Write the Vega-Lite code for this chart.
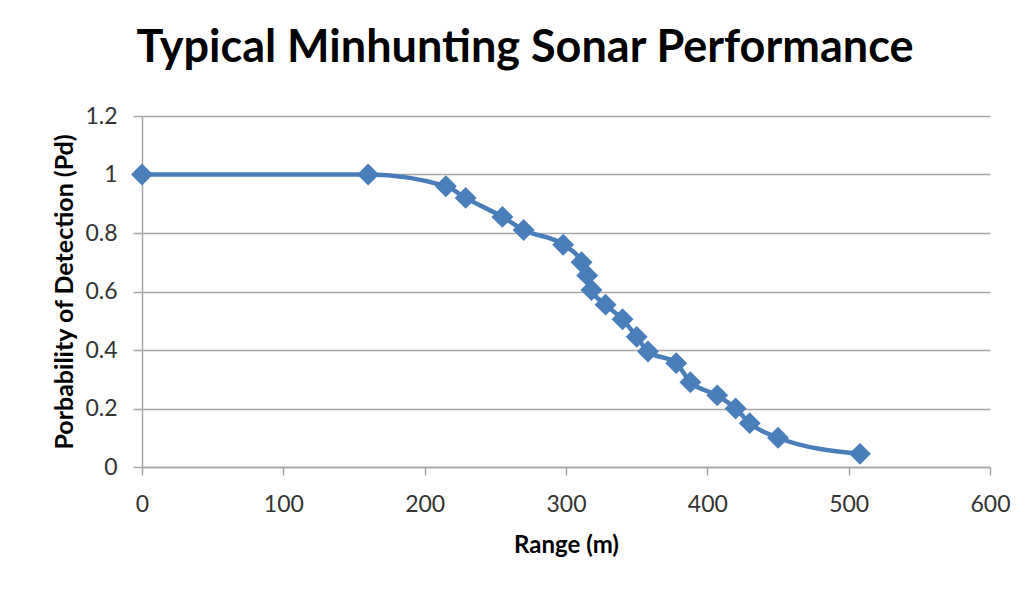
{
  "$schema": "https://vega.github.io/schema/vega-lite/v6.json",
  "width": 848,
  "height": 351,
  "autosize": {"type": "none"},
  "padding": {"left": 142, "top": 116, "right": 41, "bottom": 123},
  "background": "white",
  "title": {
    "text": "Typical Minhunting Sonar Performance",
    "font": "Lato",
    "fontWeight": "bold",
    "fontSize": 45,
    "color": "#000000",
    "anchor": "middle",
    "dx": -41,
    "dy": 48,
    "baseline": "alphabetic",
    "offset": 46
  },
  "data": {
    "values": [
      {"range": 0, "pd": 1.0},
      {"range": 160, "pd": 1.0},
      {"range": 215, "pd": 0.96},
      {"range": 229, "pd": 0.92},
      {"range": 255, "pd": 0.855},
      {"range": 270, "pd": 0.81},
      {"range": 298, "pd": 0.76},
      {"range": 311, "pd": 0.70},
      {"range": 315, "pd": 0.655},
      {"range": 318, "pd": 0.605},
      {"range": 328, "pd": 0.555},
      {"range": 340, "pd": 0.505},
      {"range": 350, "pd": 0.445},
      {"range": 358, "pd": 0.395},
      {"range": 378, "pd": 0.355},
      {"range": 388, "pd": 0.29},
      {"range": 407, "pd": 0.245},
      {"range": 420, "pd": 0.20},
      {"range": 430, "pd": 0.15},
      {"range": 450, "pd": 0.10},
      {"range": 508, "pd": 0.045}
    ]
  },
  "encoding": {
    "x": {
      "field": "range",
      "type": "quantitative",
      "scale": {"domain": [0, 600], "nice": false, "zero": false},
      "axis": {
        "title": "Range (m)",
        "values": [0, 100, 200, 300, 400, 500, 600],
        "grid": false,
        "domainColor": "#a6a6a6",
        "domainWidth": 1.5,
        "tickColor": "#a6a6a6",
        "tickWidth": 1.5,
        "tickSize": 8,
        "labelFont": "Lato",
        "labelFontSize": 23,
        "labelColor": "#333333",
        "labelPadding": 18,
        "labelFlush": false,
        "titleFont": "Lato",
        "titleFontSize": 24,
        "titleFontWeight": "bold",
        "titleColor": "#000000",
        "titlePadding": 17
      }
    },
    "y": {
      "field": "pd",
      "type": "quantitative",
      "scale": {"domain": [0, 1.2], "nice": false, "zero": true},
      "axis": {
        "title": "Porbability of Detection (Pd)",
        "values": [0, 0.2, 0.4, 0.6, 0.8, 1, 1.2],
        "format": "~g",
        "grid": true,
        "gridColor": "#a6a6a6",
        "gridWidth": 1.5,
        "domainColor": "#a6a6a6",
        "domainWidth": 1.5,
        "tickColor": "#a6a6a6",
        "tickWidth": 1.5,
        "tickSize": 9,
        "labelFont": "Lato",
        "labelFontSize": 23,
        "labelColor": "#333333",
        "labelPadding": 16,
        "labelFlush": false,
        "titleFont": "Lato",
        "titleFontSize": 25,
        "titleFontWeight": "bold",
        "titleColor": "#000000",
        "titlePadding": 7
      }
    }
  },
  "layer": [
    {
      "mark": {"type": "line", "color": "#4A7EBB", "strokeWidth": 4.5, "interpolate": "monotone"}
    },
    {
      "mark": {"type": "point", "shape": "diamond", "filled": true, "color": "#4A7EBB", "opacity": 1, "size": 480}
    }
  ],
  "config": {
    "view": {"stroke": null}
  }
}
